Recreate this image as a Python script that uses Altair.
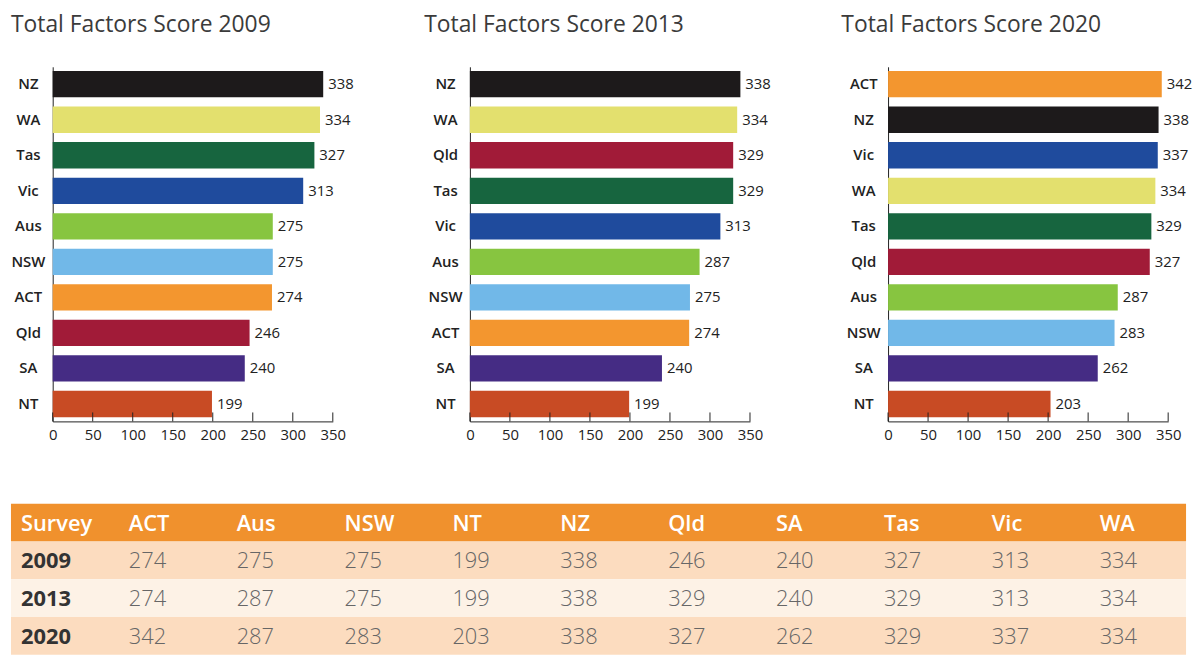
import altair as alt
import pandas as pd

# ---- data ----
states = ["ACT", "Aus", "NSW", "NT", "NZ", "Qld", "SA", "Tas", "Vic", "WA"]
state_colors = ["#f3962f", "#87c540", "#71b8e8", "#c84b24", "#1d1a1b",
                "#a11b38", "#452c84", "#17653f", "#1f4b9d", "#e3e06e"]
years = ["2009", "2013", "2020"]
scores_2009 = [274, 275, 275, 199, 338, 246, 240, 327, 313, 334]
scores_2013 = [274, 287, 275, 199, 338, 329, 240, 329, 313, 334]
scores_2020 = [342, 287, 283, 203, 338, 327, 262, 329, 337, 334]
axis_ticks = [0, 50, 100, 150, 200, 250, 300, 350]
table_header = ["Survey"] + states
row_names = ["Survey", "2009", "2013", "2020"]
row_fills = ["#f0912d", "#fcdcbf", "#fdf2e6", "#fcdcbf"]

W = 282
H = 357
DARK = "#222222"


def panel(year, values, title_dx):
    df = pd.DataFrame({"state": states, "score": values})
    order = [s for s, v in sorted(zip(states, values), key=lambda t: -t[1])]
    y = alt.Y("state:N", sort=order, title=None,
              scale=alt.Scale(paddingInner=0.26, paddingOuter=0.12),
              axis=alt.Axis(ticks=False, labelAlign="center", labelPadding=25,
                            labelFont="Open Sans", labelFontSize=15,
                            labelFontWeight=600, labelColor=DARK,
                            domainColor=DARK))
    x = alt.X("score:Q", title=None,
              scale=alt.Scale(domain=[0, 350], nice=False),
              axis=alt.Axis(values=axis_ticks, ticks=False, grid=False,
                            labelPadding=6, labelFont="Open Sans",
                            labelFontSize=15, labelColor=DARK,
                            domainColor=DARK, labelFlush=False))
    bars = alt.Chart(df).mark_bar().encode(
        x=x, y=y,
        color=alt.Color("state:N", scale=alt.Scale(domain=states, range=state_colors),
                        legend=None))
    labels = alt.Chart(df).mark_text(
        align="left", baseline="middle", dx=5, font="Open Sans",
        fontSize=15, color=DARK).encode(
        x=alt.X("score:Q"), y=alt.Y("state:N", sort=order),
        text=alt.Text("score:Q"))
    ticks = alt.Chart(pd.DataFrame({"t": axis_ticks})).mark_rule(
        color=DARK, strokeWidth=1).encode(
        x="t:Q", y=alt.value(H - 9), y2=alt.value(H))
    return alt.layer(bars, labels, ticks).properties(
        width=W, height=H,
        title=alt.TitleParams(f"Total Factors Score {year}", anchor="start",
                              frame="group", dx=title_dx, offset=30,
                              font="Open Sans",
                              fontSize=23, fontWeight="normal", color="#3b3b3b"))


p1 = panel("2009", scores_2009, -42)
p2 = panel("2013", scores_2013, -46)
p3 = panel("2020", scores_2020, -47)

# ---- table ----
cells = []
for c in table_header:
    cells.append({"row": "Survey", "col": c, "text": c, "kind": "header"})
for yr, vals in zip(years, [scores_2009, scores_2013, scores_2020]):
    cells.append({"row": yr, "col": "Survey", "text": yr, "kind": "year"})
    for s, v in zip(states, vals):
        cells.append({"row": yr, "col": s, "text": str(v), "kind": "value"})
cells_df = pd.DataFrame(cells)

TW = 1141
ty = alt.Y("row:N", sort=row_names, axis=None,
           scale=alt.Scale(paddingInner=0, paddingOuter=0))
tx = alt.X("col:N", sort=table_header, axis=None,
           scale=alt.Scale(type="point", range=[-32, 1054], padding=0))

bg = alt.Chart(pd.DataFrame({"row": row_names})).mark_rect().encode(
    y=ty, x=alt.value(-42), x2=alt.value(TW),
    color=alt.Color("row:N", scale=alt.Scale(domain=row_names, range=row_fills),
                    legend=None))

base_t = alt.Chart(cells_df).encode(x=tx, y=ty, text="text:N")
head_t = base_t.transform_filter(alt.datum.kind == "header").mark_text(
    align="left", baseline="middle", dy=1, font="Open Sans", fontSize=22,
    fontWeight=600, color="#ffffff")
year_t = base_t.transform_filter(alt.datum.kind == "year").mark_text(
    align="left", baseline="middle", dy=1, font="Open Sans", fontSize=22,
    fontWeight=700, color="#333333")
val_t = base_t.transform_filter(alt.datum.kind == "value").mark_text(
    align="left", baseline="middle", dy=1, font="Open Sans", fontSize=22,
    fontWeight=300, color="#666666")

table = alt.layer(bg, head_t, year_t, val_t).properties(width=TW, height=152)

top = alt.hconcat(p1, p2, p3, spacing=70)

chart = alt.vconcat(top, table, spacing=62).resolve_scale(
    color="independent").properties(
    padding={"left": 2, "top": 4, "right": 0, "bottom": 0},
    background="#ffffff").configure_view(stroke=None)

chart.save("out.html", embed_options={"renderer": "svg", "actions": False})
